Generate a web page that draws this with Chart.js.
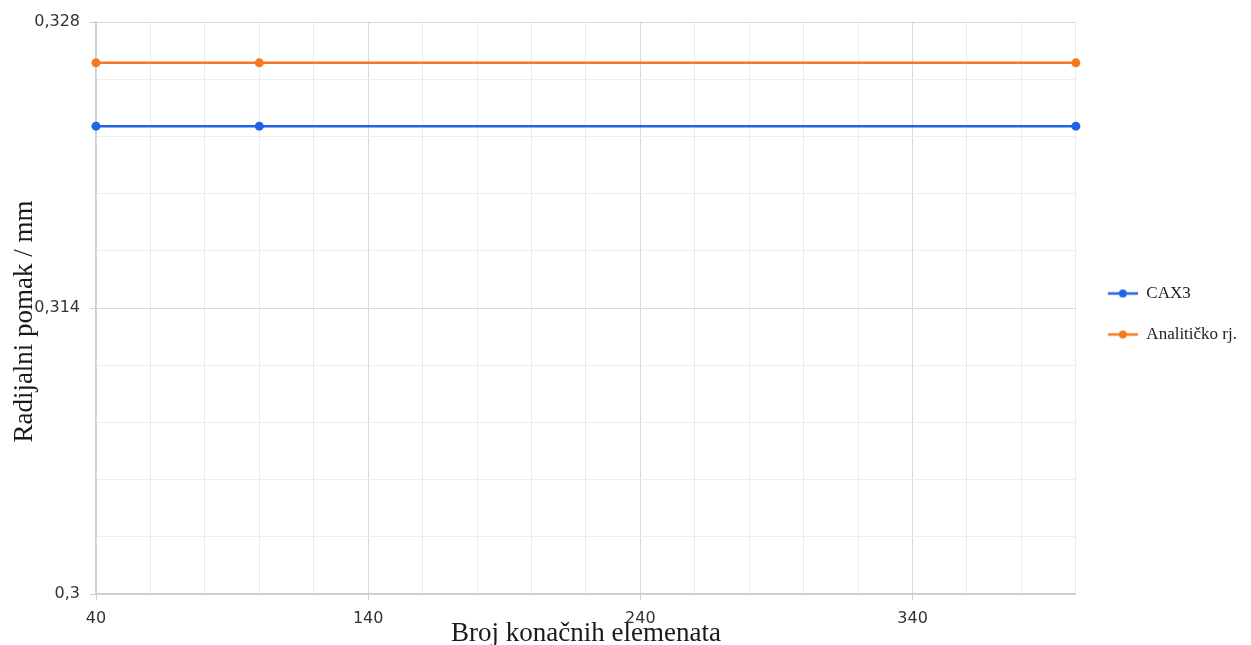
<!DOCTYPE html>
<html><head><meta charset="utf-8">
<script src="https://cdn.jsdelivr.net/npm/chart.js@4/dist/chart.umd.min.js"></script>
<style>html,body{margin:0;padding:0;background:#fff}#wrap{width:1251px;height:645px}</style>
</head><body><div id="wrap"><canvas id="c" width="1251" height="645"></canvas></div>
<script>
// ---- data ----
const elementCounts = [40, 100, 400];
const cax3Values = [0.3229, 0.3229, 0.3229];
const analyticValues = [0.3260, 0.3260, 0.3260];
const seriesNames = ['CAX3', 'Analitičko rj.'];
const seriesColors = ['#1f63e6', '#f7791f'];
const xTickLabels = [40, 140, 240, 340];
const xRange = [40, 400];
const xMinorStep = 20;
const yTickLabels = [0.3, 0.314, 0.328];
const yMinorDivisions = 5;
const xTitle = 'Broj konačnih elemenata';
const yTitle = 'Radijalni pomak / mm';

const tickFont = {family: "'DejaVu Sans', sans-serif", size: 16};
const titleFont = {family: "'Liberation Serif', serif", size: 27};

function makeIcon(color) {
  const c = document.createElement('canvas');
  c.width = 38; c.height = 10;
  const g = c.getContext('2d');
  g.strokeStyle = color; g.lineWidth = 2.5;
  g.beginPath(); g.moveTo(8, 5); g.lineTo(38, 5); g.stroke();
  g.fillStyle = color;
  g.beginPath(); g.arc(23, 5, 4, 0, Math.PI * 2); g.fill();
  return c;
}

function mkData(vals) { return elementCounts.map((x, i) => ({x: x, y: vals[i]})); }

const datasets = [cax3Values, analyticValues].map((vals, i) => ({
  label: seriesNames[i],
  data: mkData(vals),
  borderColor: seriesColors[i],
  backgroundColor: seriesColors[i],
  borderWidth: 2.5,
  pointRadius: 4.5,
  pointHoverRadius: 4.5,
  pointBorderWidth: 0,
  tension: 0,
  clip: false
}));

new Chart(document.getElementById('c'), {
  type: 'line',
  data: {datasets},
  options: {
    responsive: false,
    animation: false,
    layout: {padding: {left: 0, top: 22, right: 4, bottom: 0}},
    plugins: {
      tooltip: {enabled: false},
      legend: {
        position: 'right',
        align: 'start',
        title: {display: true, text: '', font: {size: 1, lineHeight: 1}, padding: {top: 238, bottom: 0}},
        labels: {
          usePointStyle: true,
          pointStyleWidth: 38,
          padding: 24,
          color: '#222',
          font: {family: "'Liberation Serif', serif", size: 17},
          generateLabels: chart => chart.data.datasets.map((ds, i) => ({
            text: ds.label,
            pointStyle: makeIcon(ds.borderColor),
            fillStyle: ds.borderColor,
            strokeStyle: ds.borderColor,
            lineWidth: 0,
            hidden: false,
            datasetIndex: i,
            fontColor: '#222'
          }))
        }
      }
    },
    scales: {
      x: {
        type: 'linear',
        min: xRange[0], max: xRange[1],
        afterBuildTicks: s => {
          const t = [];
          for (let v = xRange[0]; v <= xRange[1]; v += xMinorStep) t.push({value: v});
          s.ticks = t;
        },
        afterFit: s => { s.height = 51; },
        ticks: {
          autoSkip: false, maxRotation: 0, padding: 9,
          color: '#333', font: tickFont,
          callback: v => xTickLabels.includes(v) ? String(v) : ''
        },
        grid: {
          color: ctx => (ctx.tick && xTickLabels.includes(ctx.tick.value)) ? '#d8d8d8' : '#ebebeb',
          tickColor: ctx => (ctx.tick && xTickLabels.includes(ctx.tick.value)) ? '#cfcfcf' : 'rgba(0,0,0,0)',
          tickLength: 6,
          lineWidth: 1
        },
        border: {color: '#cfcfcf', width: 2},
        title: {display: true, text: xTitle, color: '#1a1a1a', font: titleFont, padding: {top: 0, bottom: -5}}
      },
      y: {
        type: 'linear',
        min: yTickLabels[0], max: yTickLabels[yTickLabels.length - 1],
        afterBuildTicks: s => {
          const t = [];
          for (let i = 0; i < yTickLabels.length - 1; i++) {
            const a = yTickLabels[i], b = yTickLabels[i + 1];
            for (let k = 0; k < yMinorDivisions; k++) t.push({value: a + (b - a) * k / yMinorDivisions, major: k === 0});
          }
          t.push({value: yTickLabels[yTickLabels.length - 1], major: true});
          s.ticks = t;
        },
        afterFit: s => { s.width = 96; },
        ticks: {
          autoSkip: false, padding: 10,
          color: '#333', font: tickFont,
          callback: (v, i) => (i % yMinorDivisions === 0) ? String(yTickLabels[i / yMinorDivisions]).replace('.', ',') : ''
        },
        grid: {
          color: ctx => (ctx.index % yMinorDivisions === 0) ? '#dadada' : '#ededed',
          tickColor: ctx => (ctx.index % yMinorDivisions === 0) ? '#cfcfcf' : 'rgba(0,0,0,0)',
          tickLength: 6,
          lineWidth: 1
        },
        border: {color: '#cfcfcf', width: 1.5},
        title: {display: true, text: yTitle + '\u2002\u2002', color: '#1a1a1a', font: titleFont, padding: {top: 9, bottom: 0}}
      }
    }
  }
});
</script>
</body></html>
